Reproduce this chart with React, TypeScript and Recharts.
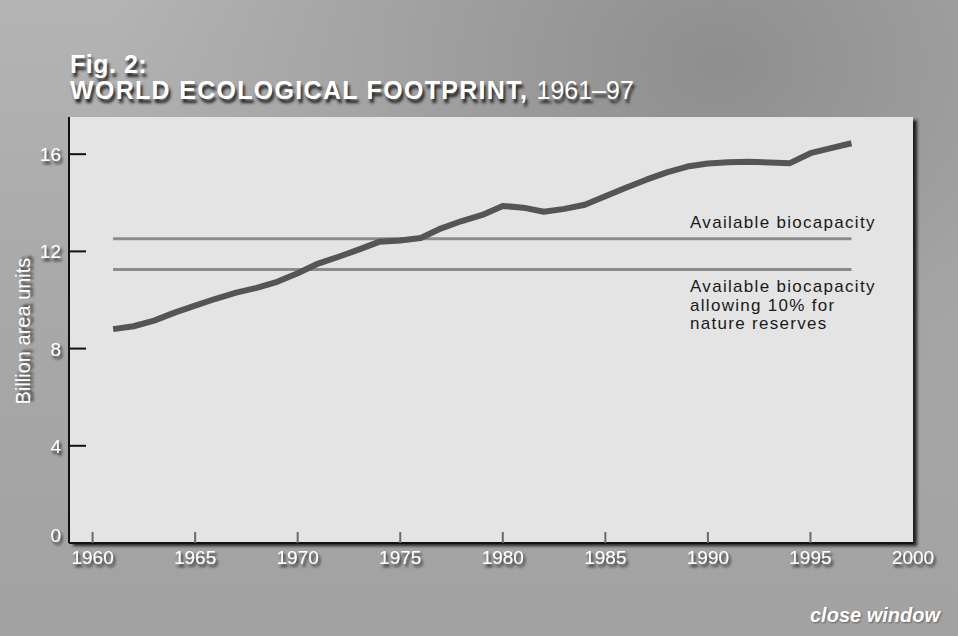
import React from 'react';
import { LineChart, Line, XAxis, YAxis } from 'recharts';

// World ecological footprint, billion area units
const years = [
  1961, 1962, 1963, 1964, 1965, 1966, 1967, 1968, 1969, 1970, 1971, 1972, 1973,
  1974, 1975, 1976, 1977, 1978, 1979, 1980, 1981, 1982, 1983, 1984, 1985, 1986,
  1987, 1988, 1989, 1990, 1991, 1992, 1993, 1994, 1995, 1996, 1997,
];
const footprint = [
  8.8, 8.92, 9.15, 9.48, 9.77, 10.05, 10.3, 10.5, 10.75, 11.1, 11.5, 11.78, 12.08,
  12.4, 12.45, 12.55, 12.95, 13.25, 13.5, 13.87, 13.8, 13.63, 13.75, 13.92, 14.27, 14.62,
  14.95, 15.25, 15.49, 15.62, 15.67, 15.69, 15.66, 15.63, 16.04, 16.25, 16.45,
];

const biocapacity = 12.52;
const biocapacityReserves = 11.25;
const biocapacityYears = [1961, 1997];

const xTicks = [1960, 1965, 1970, 1975, 1980, 1985, 1990, 1995, 2000];
const yTicks = [0, 4, 8, 12, 16];

const data = years.map((year, i) => ({ year, footprint: footprint[i] }));
const bioData = biocapacityYears.map((year) => ({ year, v: biocapacity }));
const bioReserveData = biocapacityYears.map((year) => ({ year, v: biocapacityReserves }));

const FONT = "'Liberation Sans', Arial, Helvetica, sans-serif";
const whiteShadow = '2px 3px 3px rgba(0,0,0,0.75)';

const XTick = (props: any) => {
  const { x, y, payload } = props;
  return (
    <g>
      {payload.value !== 2000 && (
        <line x1={x} x2={x} y1={y} y2={y - 11} stroke="#6a6a6a" strokeWidth={2} />
      )}
      <text x={x} y={y + 21} textAnchor="middle" fill="#fff" fontSize={19} fontFamily={FONT} filter="url(#tickShadow)">
        {payload.value}
      </text>
    </g>
  );
};

const YTick = (props: any) => {
  const { x, y, payload } = props;
  const zero = payload.value === 0;
  return (
    <g>
      {!zero && <line x1={x} x2={x + 17} y1={y} y2={y} stroke="#111" strokeWidth={2} />}
      <text x={x - 8} y={y + 7 - (zero ? 8 : 0)} textAnchor="end" fill="#fff" fontSize={19} fontFamily={FONT} filter="url(#tickShadow)">
        {payload.value}
      </text>
    </g>
  );
};

const labelStyle: React.CSSProperties = {
  position: 'absolute',
  left: 690,
  fontSize: 17,
  lineHeight: '18.5px',
  letterSpacing: 1.3,
  color: '#1a1a1a',
  whiteSpace: 'nowrap',
};

const App: React.FC = () => {
  return (
    <div
      style={{
        position: 'absolute',
        left: 0,
        top: 0,
        width: 958,
        height: 636,
        overflow: 'hidden',
        fontFamily: FONT,
        background:
          'radial-gradient(ellipse at 75% 10%, #8e8e8e 0%, #a4a4a4 35%, rgba(0,0,0,0) 60%), linear-gradient(180deg, #b4b4b4 0%, #a8a8a8 50%, #a2a2a2 100%)',
      }}
    >
      <svg width={0} height={0} style={{ position: 'absolute' }}>
        <defs>
          <filter id="tickShadow" x="-30%" y="-30%" width="160%" height="180%">
            <feDropShadow dx={2} dy={3} stdDeviation={1.5} floodColor="#000" floodOpacity={0.75} />
          </filter>
        </defs>
      </svg>

      {/* plot panel */}
      <div
        style={{
          position: 'absolute',
          left: 69,
          top: 117,
          width: 844,
          height: 426,
          background: '#e4e4e4',
          boxShadow: '4px 3px 3px rgba(0,0,0,0.8)',
        }}
      />

      <div
        style={{
          position: 'absolute',
          left: 70,
          top: 51.3,
          color: '#fff',
          fontSize: 25,
          lineHeight: '26px',
          textShadow: '2px 4px 3px rgba(0,0,0,0.8)',
          whiteSpace: 'nowrap',
        }}
      >
        <div style={{ fontWeight: 'bold', letterSpacing: 0.5 }}>Fig. 2:</div>
        <div>
          <span style={{ fontWeight: 'bold', letterSpacing: 1.3 }}>WORLD ECOLOGICAL FOOTPRINT, </span>
          <span>1961–97</span>
        </div>
      </div>

      <div style={{ position: 'absolute', left: 0, top: 0 }}>
        <LineChart width={958} height={636} data={data} margin={{ top: 117, right: 45, bottom: 53, left: 0 }}>
          <XAxis
            dataKey="year"
            type="number"
            domain={[1958.85, 2000]}
            allowDataOverflow
            ticks={xTicks}
            interval={0}
            height={40}
            tickSize={0}
            tickMargin={0}
            tickLine={false}
            axisLine={{ stroke: '#111', strokeWidth: 2 }}
            tick={<XTick />}
          />
          <YAxis
            type="number"
            domain={[0, 17.53]}
            allowDataOverflow
            ticks={yTicks}
            interval={0}
            width={69}
            tickSize={0}
            tickMargin={0}
            tickLine={false}
            axisLine={{ stroke: '#111', strokeWidth: 2 }}
            tick={<YTick />}
          />
          <Line data={bioData} dataKey="v" stroke="#8c8c8c" strokeWidth={3} dot={false} isAnimationActive={false} />
          <Line data={bioReserveData} dataKey="v" stroke="#8c8c8c" strokeWidth={3} dot={false} isAnimationActive={false} />
          <Line
            type="linear"
            dataKey="footprint"
            stroke="#555"
            strokeWidth={6}
            strokeLinejoin="round"
            dot={false}
            isAnimationActive={false}
          />
        </LineChart>
      </div>

      <div
        style={{
          position: 'absolute',
          left: 23,
          top: 331,
          transform: 'translate(-50%, -50%) rotate(-90deg)',
          color: '#fff',
          fontSize: 20,
          whiteSpace: 'nowrap',
          textShadow: whiteShadow,
        }}
      >
        Billion area units
      </div>

      <div style={{ ...labelStyle, top: 213.5 }}>Available biocapacity</div>
      <div style={{ ...labelStyle, top: 278 }}>
        Available biocapacity
        <br />
        allowing 10% for
        <br />
        nature reserves
      </div>

      <div
        style={{
          position: 'absolute',
          left: 810,
          top: 603,
          fontSize: 20,
          lineHeight: '24px',
          fontWeight: 'bold',
          fontStyle: 'italic',
          color: '#fff',
          whiteSpace: 'nowrap',
          textShadow: '1px 1px 2px rgba(0,0,0,0.4)',
        }}
      >
        close window
      </div>
    </div>
  );
};

export default App;
